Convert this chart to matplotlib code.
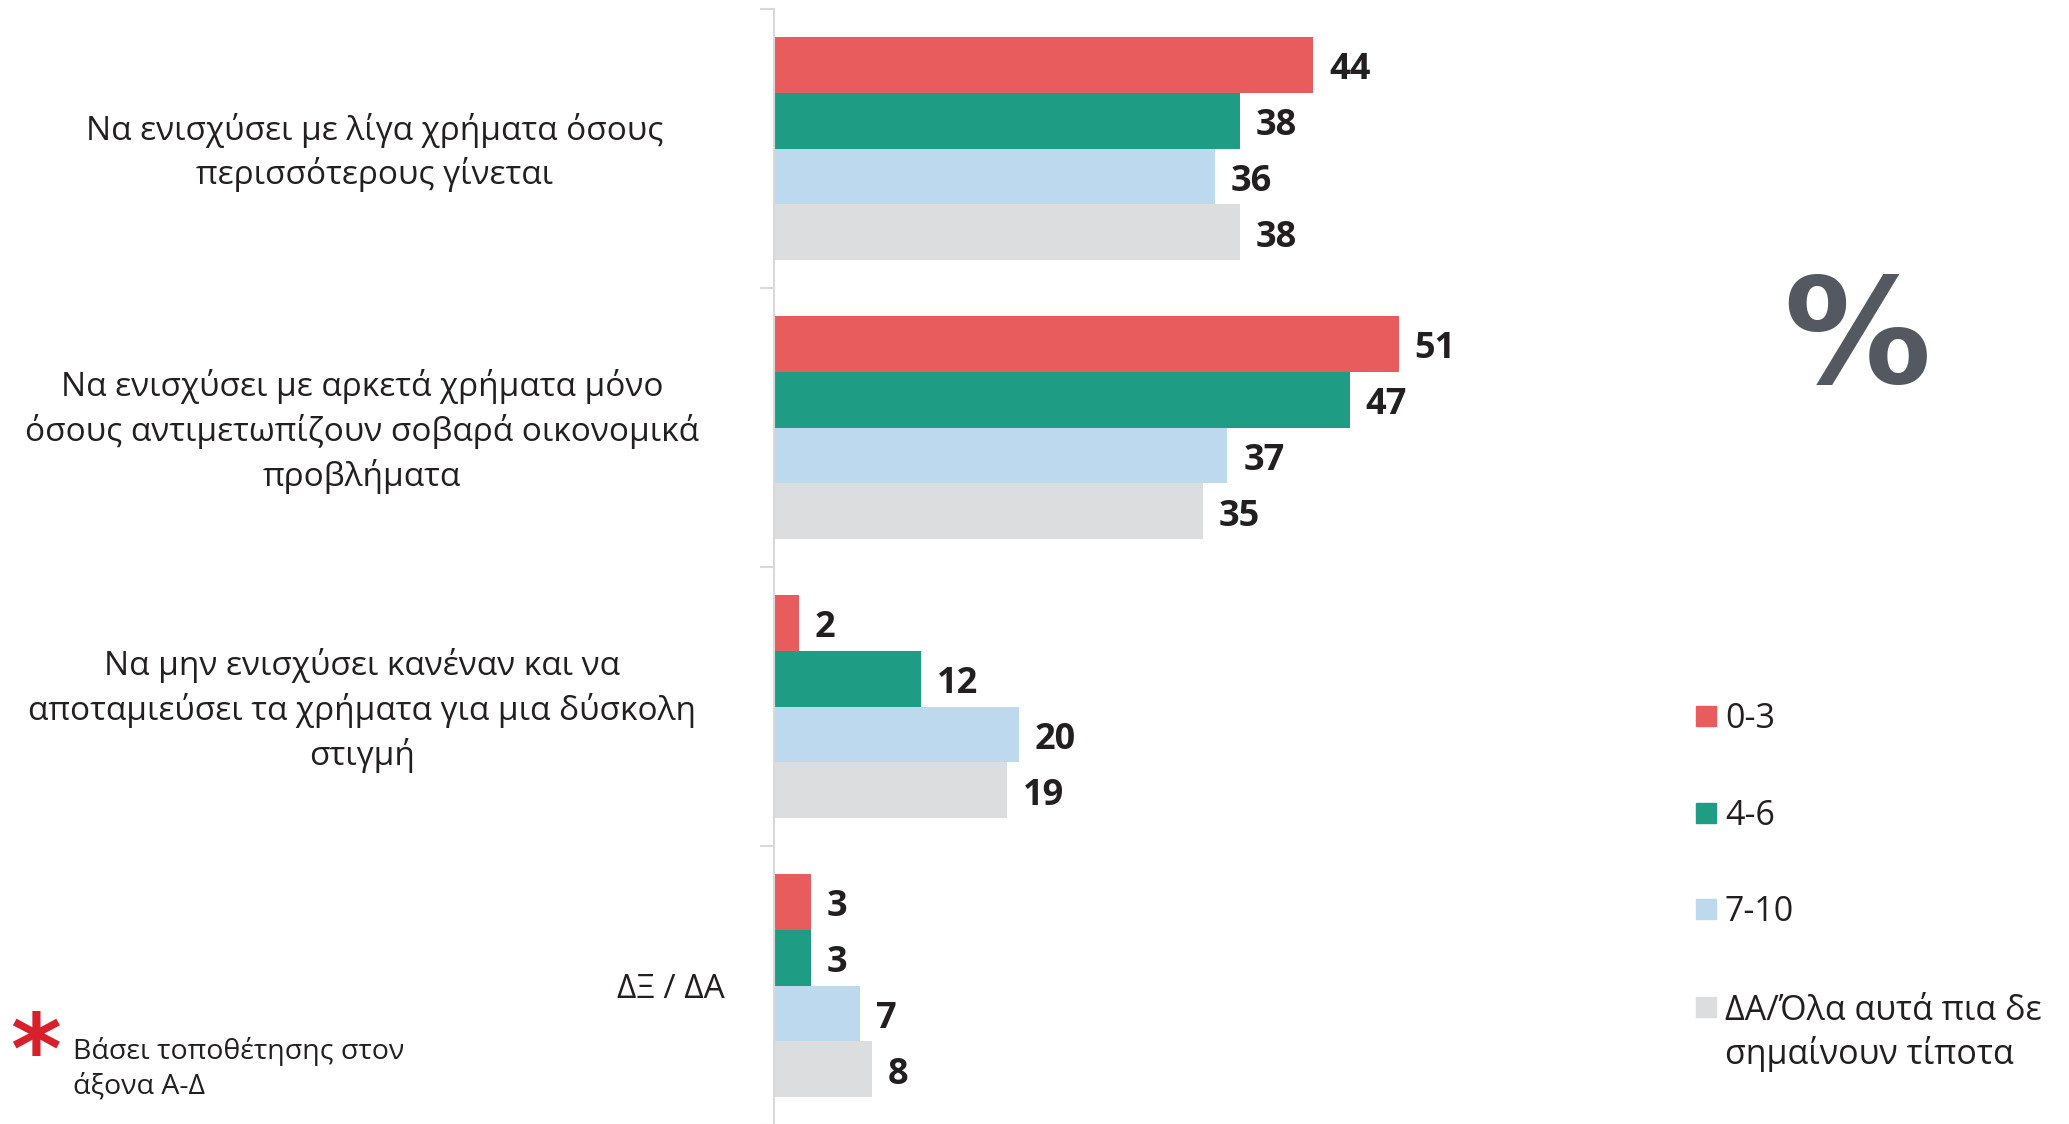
import numpy as np
import matplotlib.pyplot as plt
from matplotlib.patches import Rectangle

categories = ["Να ενισχύσει με λίγα χρήματα όσους\nπερισσότερους γίνεται",
              "Να ενισχύσει με αρκετά χρήματα μόνο\nόσους αντιμετωπίζουν σοβαρά οικονομικά\nπροβλήματα",
              "Να μην ενισχύσει κανέναν και να\nαποταμιεύσει τα χρήματα για μια δύσκολη\nστιγμή",
              "ΔΞ / ΔΑ"]
series = ["0-3", "4-6", "7-10", "ΔΑ/Όλα αυτά πια δε\nσημαίνουν τίποτα"]
v_03 = [44, 51, 2, 3]
v_46 = [38, 47, 12, 3]
v_710 = [36, 37, 20, 7]
v_da = [38, 35, 19, 8]
values = [v_03, v_46, v_710, v_da]
colors = ["#E85C5E", "#1F9C84", "#BDD9EE", "#DCDDDF"]
textc = "#231F20"

fig = plt.figure(figsize=(20.69, 11.24), dpi=100)
ax = fig.add_axes([774/2069, -1/1124, 876/2069, 1116/1124])

bh = 0.2
for j, vals in enumerate(values):
    ys = np.arange(len(categories)) + 0.2 + bh*j
    ax.barh(ys, vals, height=bh, color=colors[j], edgecolor="none")
    for y, v in zip(ys, vals):
        ax.text(v + 1.3, y + 0.02, str(v), va="center", ha="left", fontsize=26,
                fontweight="bold", family="Open Sans", color=textc)

ax.set_xlim(0, 876/12.25)
ax.set_ylim(4, 0)
for s in ["top", "right", "bottom"]:
    ax.spines[s].set_visible(False)
ax.spines["left"].set_color("#D9D9D9")
ax.spines["left"].set_linewidth(1.5)
ax.set_xticks([])
ax.set_yticks(np.arange(5))
ax.set_yticklabels([])
ax.tick_params(axis="y", length=10, width=1.5, color="#D9D9D9")

# category labels
lab_x = [375, 362, 362, 671]
for i, c in enumerate(categories):
    yfig = ax.transData.transform((0, i + 0.5))[1] / fig.bbox.height - 4/1124
    fig.text(lab_x[i]/2069, yfig, c, ha="center", va="center", fontsize=24,
             family="Open Sans", color=textc, linespacing=1.36)

# legend
leg_y = [716, 813, 909, 1007]
for j, s in enumerate(series):
    yf = 1 - leg_y[j]/1124
    fig.add_artist(Rectangle((1696/2069, yf - 10/1124), 20/2069, 20/1124,
                             transform=fig.transFigure, color=colors[j]))
    if "\n" in s:
        fig.text(1725/2069, yf + 13/1124, s, ha="left", va="top",
                 fontsize=24.5, family="Open Sans", color=textc, linespacing=1.3)
    else:
        fig.text(1725/2069, yf - 3/1124, s, ha="left", va="center",
                 fontsize=24.5, family="Open Sans", color=textc)

fig.text(1857/2069, 1 - 342/1124, "%", ha="center", va="center", fontsize=106,
         fontweight="bold", family="DejaVu Sans", color="#545860")

# footnote
fig.text(36/2069, 1 - 1057/1124, "*", ha="center", va="center", fontsize=70,
         fontweight="bold", color="#D7202B")
fig.text(73/2069, 1 - 1069/1124, "Βάσει τοποθέτησης στον\nάξονα Α-Δ", ha="left",
         va="center", fontsize=20.5, family="Open Sans", color=textc, linespacing=1.3)

fig.savefig("out.png", dpi=100)
